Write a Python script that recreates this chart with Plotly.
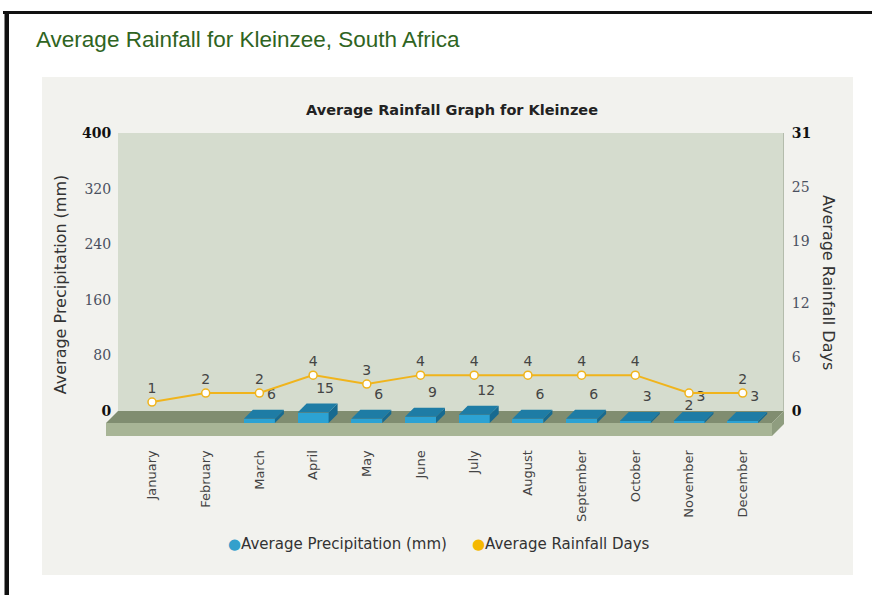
import plotly.graph_objects as go

# ---------------- data ----------------
months = ["January", "February", "March", "April", "May", "June", "July",
          "August", "September", "October", "November", "December"]
precip_mm = [None, None, 6, 15, 6, 9, 12, 6, 6, 3, 3, 3]
rain_days = [1, 2, 2, 4, 3, 4, 4, 4, 4, 4, 2, 2]
left_ticks = [0, 80, 160, 240, 320, 400]
right_ticks = [0, 6, 12, 19, 25, 31]
day_label_pos = ["top center"] * 10 + ["bottom center", "top center"]

# ---------------- layout geometry (pixels) ----------------
W, H = 872, 595
PL, PR, PT, PB = 106, 784, 133, 436        # plot area
WALL_L = 118                               # back wall left edge
ZERO_PX = 411                              # y pixel of 0 on back wall
TOP_PX = 133                               # y pixel of max on back wall
FIRST_PX, STEP = 152, 53.7                 # category centre positions
DEPTH = 12                                 # floor depth (px)
BAR_DEPTH = 9                              # bar depth (px)
BAR_HALF = 15.5                            # half bar width (px)
LABEL_LIFT = 4                             # px lift of value labels

mm_per_px = 400 / (ZERO_PX - TOP_PX)
day_per_px = 31 / (ZERO_PX - TOP_PX)


def xd(px):
    return (px - FIRST_PX) / STEP


def yd(py):
    return (ZERO_PX - py) * mm_per_px


def yd2(py):
    return (ZERO_PX - py) * day_per_px


def pxp(px):
    return (px - PL) / (PR - PL)


def pyp(py):
    return (PB - py) / (PB - PT)


idx = list(range(len(months)))
y_front = yd(ZERO_PX + DEPTH)              # floor front edge (data units)
bdx = BAR_DEPTH / STEP
bdy = BAR_DEPTH * mm_per_px
hw = BAR_HALF / STEP

# ---------------- 3D bar faces built from the data ----------------
top_x, top_y, side_x, side_y = [], [], [], []
for i, v in zip(idx, precip_mm):
    if v is None:
        continue
    t = y_front + v
    top_x += [i - hw, i + hw, i + hw + bdx, i - hw + bdx, i - hw, None]
    top_y += [t, t, t + bdy, t + bdy, t, None]
    side_x += [i + hw, i + hw, i + hw + bdx, i + hw + bdx, i + hw, None]
    side_y += [y_front, t, t + bdy, y_front + bdy, y_front, None]

fig = go.Figure()

fig.add_trace(go.Bar(
    x=idx, y=precip_mm, base=y_front, width=2 * hw,
    marker=dict(color="#2ca2d3", line=dict(width=0)),
    name="Average Precipitation (mm)", showlegend=False, hoverinfo="x+y"))
fig.add_trace(go.Scatter(
    x=side_x, y=side_y, fill="toself", mode="lines", line=dict(width=0),
    fillcolor="#176a90", showlegend=False, hoverinfo="skip"))
fig.add_trace(go.Scatter(
    x=top_x, y=top_y, fill="toself", mode="lines", line=dict(width=0),
    fillcolor="#1e7ca5", showlegend=False, hoverinfo="skip"))

# precipitation value labels
lab_x = [i + 12 / STEP for i, v in zip(idx, precip_mm) if v is not None]
lab_v = [v for v in precip_mm if v is not None]
lab_y = [v + LABEL_LIFT * mm_per_px for v in lab_v]
fig.add_trace(go.Scatter(
    x=lab_x, y=lab_y, mode="text", text=[str(v) for v in lab_v],
    textposition="top center",
    textfont=dict(family="DejaVu Sans", size=14, color="#444444"),
    showlegend=False, hoverinfo="skip"))

# rainfall days line
fig.add_trace(go.Scatter(
    x=idx, y=rain_days, yaxis="y2", mode="lines+markers+text",
    text=[str(v) for v in rain_days], textposition=day_label_pos,
    textfont=dict(family="DejaVu Sans", size=14, color="#444444"),
    line=dict(color="#f0b41c", width=2),
    marker=dict(size=8, color="white", line=dict(color="#f0b41c", width=1.5)),
    name="Average Rainfall Days", showlegend=False))

# ---------------- decorative shapes ----------------
shapes = []
# black frame (top and left)
shapes.append(dict(type="rect", xref="paper", yref="paper",
                   x0=pxp(3), x1=pxp(W + 5), y0=pyp(14), y1=pyp(11),
                   fillcolor="#111111", line=dict(width=0), layer="below"))
shapes.append(dict(type="rect", xref="paper", yref="paper",
                   x0=pxp(4.5), x1=pxp(9), y0=pyp(H + 5), y1=pyp(11),
                   fillcolor="#111111", line=dict(width=0), layer="below"))
# chart panel
shapes.append(dict(type="rect", xref="paper", yref="paper",
                   x0=pxp(42), x1=pxp(853), y0=pyp(575), y1=pyp(77),
                   fillcolor="#f2f2ee", line=dict(width=0), layer="below"))
# back wall
shapes.append(dict(type="rect", xref="paper", yref="paper",
                   x0=pxp(WALL_L), x1=pxp(PR), y0=pyp(ZERO_PX), y1=pyp(TOP_PX),
                   fillcolor="#d5dcce", line=dict(width=0), layer="below"))
shapes.append(dict(type="line", xref="paper", yref="paper",
                   x0=pxp(PR - 0.5), x1=pxp(PR - 0.5), y0=pyp(ZERO_PX), y1=pyp(TOP_PX),
                   line=dict(color="#b4bcac", width=1), layer="below"))


def poly(pts, color):
    d = "M " + " L ".join(f"{pxp(a):.5f},{pyp(b):.5f}" for a, b in pts) + " Z"
    return dict(type="path", xref="paper", yref="paper", path=d,
                fillcolor=color, line=dict(width=0), layer="below")


# floor top face, front face, right side face
shapes.append(poly([(PL, ZERO_PX + DEPTH), (WALL_L, ZERO_PX), (PR, ZERO_PX),
                    (PR - DEPTH, ZERO_PX + DEPTH)], "#808d70"))
shapes.append(poly([(PL, ZERO_PX + DEPTH), (PR - DEPTH, ZERO_PX + DEPTH),
                    (PR - DEPTH, PB), (PL, PB)], "#a8b596"))
shapes.append(poly([(PR - DEPTH, ZERO_PX + DEPTH), (PR, ZERO_PX),
                    (PR, PB - DEPTH), (PR - DEPTH, PB)], "#8f9d7f"))

# ---------------- text annotations ----------------
ann = []
ann.append(dict(text="Average Rainfall for Kleinzee, South Africa",
                xref="paper", yref="paper", x=pxp(34), y=pyp(40),
                xanchor="left", yanchor="middle", showarrow=False,
                font=dict(family="Liberation Sans, Arial", size=22.5, color="#2f6422")))
ann.append(dict(text="<b>Average Rainfall Graph for Kleinzee</b>",
                xref="paper", yref="paper", x=pxp(452), y=pyp(110),
                xanchor="center", yanchor="middle", showarrow=False,
                font=dict(family="DejaVu Sans", size=14.5, color="#222222")))
ann.append(dict(text="Average Rainfall Days", textangle=90,
                xref="paper", yref="paper", x=pxp(829), y=pyp(282),
                xanchor="center", yanchor="middle", showarrow=False,
                font=dict(family="DejaVu Sans", size=16, color="#333333")))
ann.append(dict(text="<span style='color:#33a0cc'>●</span>Average Precipitation (mm)",
                xref="paper", yref="paper", x=pxp(226), y=pyp(544),
                xanchor="left", yanchor="middle", showarrow=False,
                font=dict(family="DejaVu Sans", size=15, color="#333333")))
ann.append(dict(text="<span style='color:#f5b800'>●</span>Average Rainfall Days",
                xref="paper", yref="paper", x=pxp(470), y=pyp(544),
                xanchor="left", yanchor="middle", showarrow=False,
                font=dict(family="DejaVu Sans", size=15, color="#333333")))


def tick_text(vals):
    out = []
    for k, v in enumerate(vals):
        if k == 0 or k == len(vals) - 1:
            out.append(f"<b><span style='color:#111'>{v}</span></b>")
        else:
            out.append(str(v))
    return out


fig.update_layout(
    width=W, height=H,
    margin=dict(l=PL, r=W - PR, t=PT, b=H - PB, pad=0),
    paper_bgcolor="white", plot_bgcolor="rgba(0,0,0,0)",
    showlegend=False, bargap=0,
    shapes=shapes, annotations=ann,
    xaxis=dict(range=[xd(PL), xd(PR)], tickmode="array", tickvals=idx,
               ticktext=months, tickangle=-90, showgrid=False, zeroline=False,
               showline=False, ticks="outside", ticklen=8, tickcolor="rgba(0,0,0,0)",
               tickfont=dict(family="DejaVu Sans", size=13, color="#444444"),
               fixedrange=True),
    yaxis=dict(range=[yd(PB), yd(PT)], tickmode="array", tickvals=left_ticks,
               ticktext=tick_text(left_ticks), showgrid=False, zeroline=False,
               showline=False, anchor="free", position=pxp(WALL_L),
               ticks="outside", ticklen=4, tickcolor="rgba(0,0,0,0)",
               tickfont=dict(family="DejaVu Serif", size=14, color="#4a5060"),
               title=dict(text="Average Precipitation (mm)", standoff=10,
                          font=dict(family="DejaVu Sans", size=16, color="#333333"))),
    yaxis2=dict(range=[yd2(PB), yd2(PT)], tickmode="array", tickvals=right_ticks,
                ticktext=tick_text(right_ticks), overlaying="y", side="right",
                showgrid=False, zeroline=False, showline=False,
                ticks="outside", ticklen=4, tickcolor="rgba(0,0,0,0)",
                tickfont=dict(family="DejaVu Serif", size=14, color="#4a5060")),
)

fig.write_html("out.html")
